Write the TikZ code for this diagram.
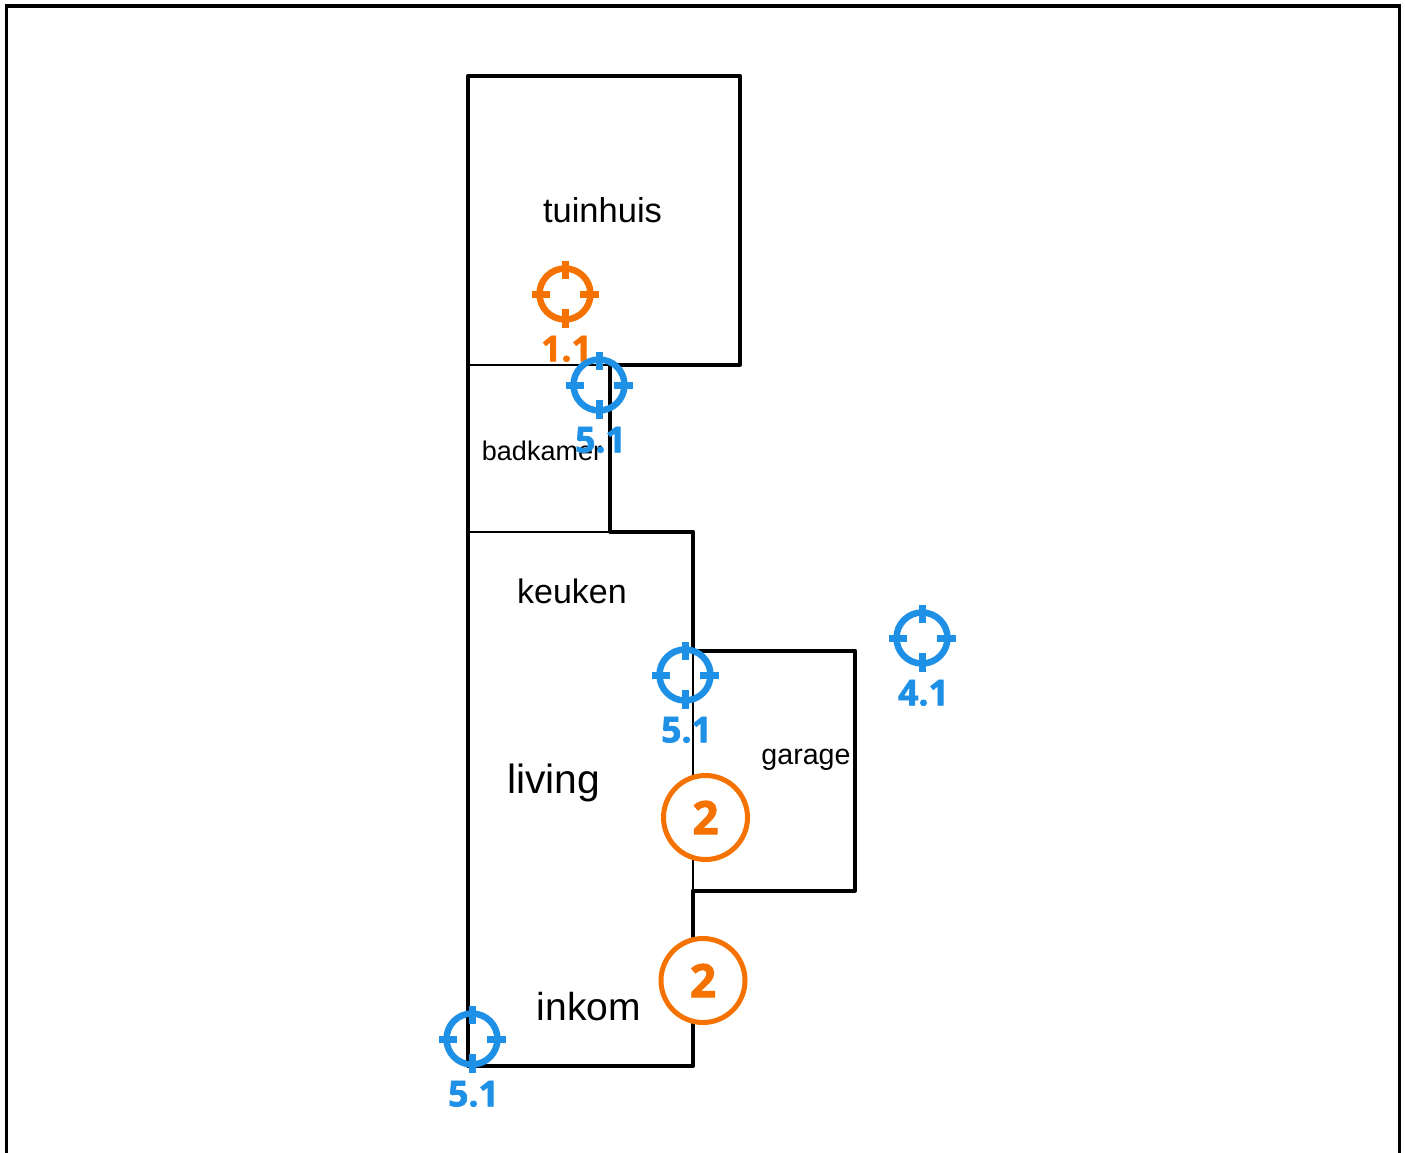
\documentclass[tikz,border=0pt]{standalone}
\usepackage{fontspec}
\setmainfont{Liberation Sans}
\newfontfamily\markfont[BoldFeatures={FakeBold=2}]{Open Sans}
\usetikzlibrary{positioning}
\definecolor{markblue}{HTML}{1E90E6}
\definecolor{markorange}{HTML}{F57200}
\newcommand{\roomfont}[1]{\fontsize{#1}{#1}\selectfont}

\begin{document}
\begin{tikzpicture}[x=1pt,y=-1pt,
thick wall/.style={draw=black,line width=4pt,line cap=round,line join=round},
thin wall/.style={draw=black,line width=2pt},
room/.style={inner sep=0pt,text=black},
target/.style={draw=#1,circle,line width=6.5pt,minimum size=51pt,inner sep=0pt},
tlabel/.style={text=#1,inner sep=0pt,xshift=1.5pt,font=\markfont\bfseries\roomfont{35.5}},
tick/.style={line width=7pt},
step mark/.style={draw=markorange,fill=white,circle,line width=5pt,minimum size=84pt,inner sep=0pt,
    text=markorange,font=\markfont\bfseries\roomfont{46}}]
\useasboundingbox (0,0) rectangle (1405,1153);
\begin{scope}
\clip (0,0) rectangle (1405,1153);
\draw [line width=3.5pt] (6.5,6) rectangle (1399.5,1170);
\end{scope}

% walls
\draw [thin wall] (468,364.5) -- (610,364.5);
\draw [thin wall] (468,531.5) -- (610,531.5);
\draw [thin wall] (693,650.5) -- (693,890.5);
\draw [thick wall] (693,1066) -- (468,1066) -- (468,76) -- (740,76) -- (740,364.5) -- (610,364.5)
    -- (610,531.5) -- (693,531.5) -- (693,650.5) -- (855,650.5) -- (855,890.5) -- (693,890.5) -- cycle;

% rooms
\node (tuinhuis) [room,font=\roomfont{34.5}] at (602.5,210) {tuinhuis};
\node (badkamer) [room,font=\roomfont{27}] at (542,451) {badkamer};
\node (keuken) [room,font=\roomfont{34}] at (572,591) {keuken};
\node (living) [room,font=\roomfont{40.8}] at (553.5,783) {living};
\node (garage) [room,font=\roomfont{28.6}] at (806,760) {garage};
\node (inkom) [room,font=\roomfont{39}] at (589,1007) {inkom};

% numbered circles
\node (stepa) [step mark] at (705.5,817.5) {2};
\node (stepb) [step mark] at (703,980.5) {2};

% targets
\foreach \tname/\tx/\ty/\tcol/\ttext in {a/565/294/markorange/1.1,
    b/599/385/markblue/5.1,c/685/675/markblue/5.1,
    d/922/638/markblue/4.1,e/472/1039/markblue/5.1} {
  \node (\tname) [target=\tcol,
      label={[tlabel=\tcol,label distance=13pt]below:\ttext}] at (\tx,\ty) {};
  \foreach \tang in {0,90,180,270}
    \draw [tick,draw=\tcol] ([shift={(\tang:15)}]\tname.center) -- ([shift={(\tang:33.5)}]\tname.center);
}
\end{tikzpicture}
\end{document}
